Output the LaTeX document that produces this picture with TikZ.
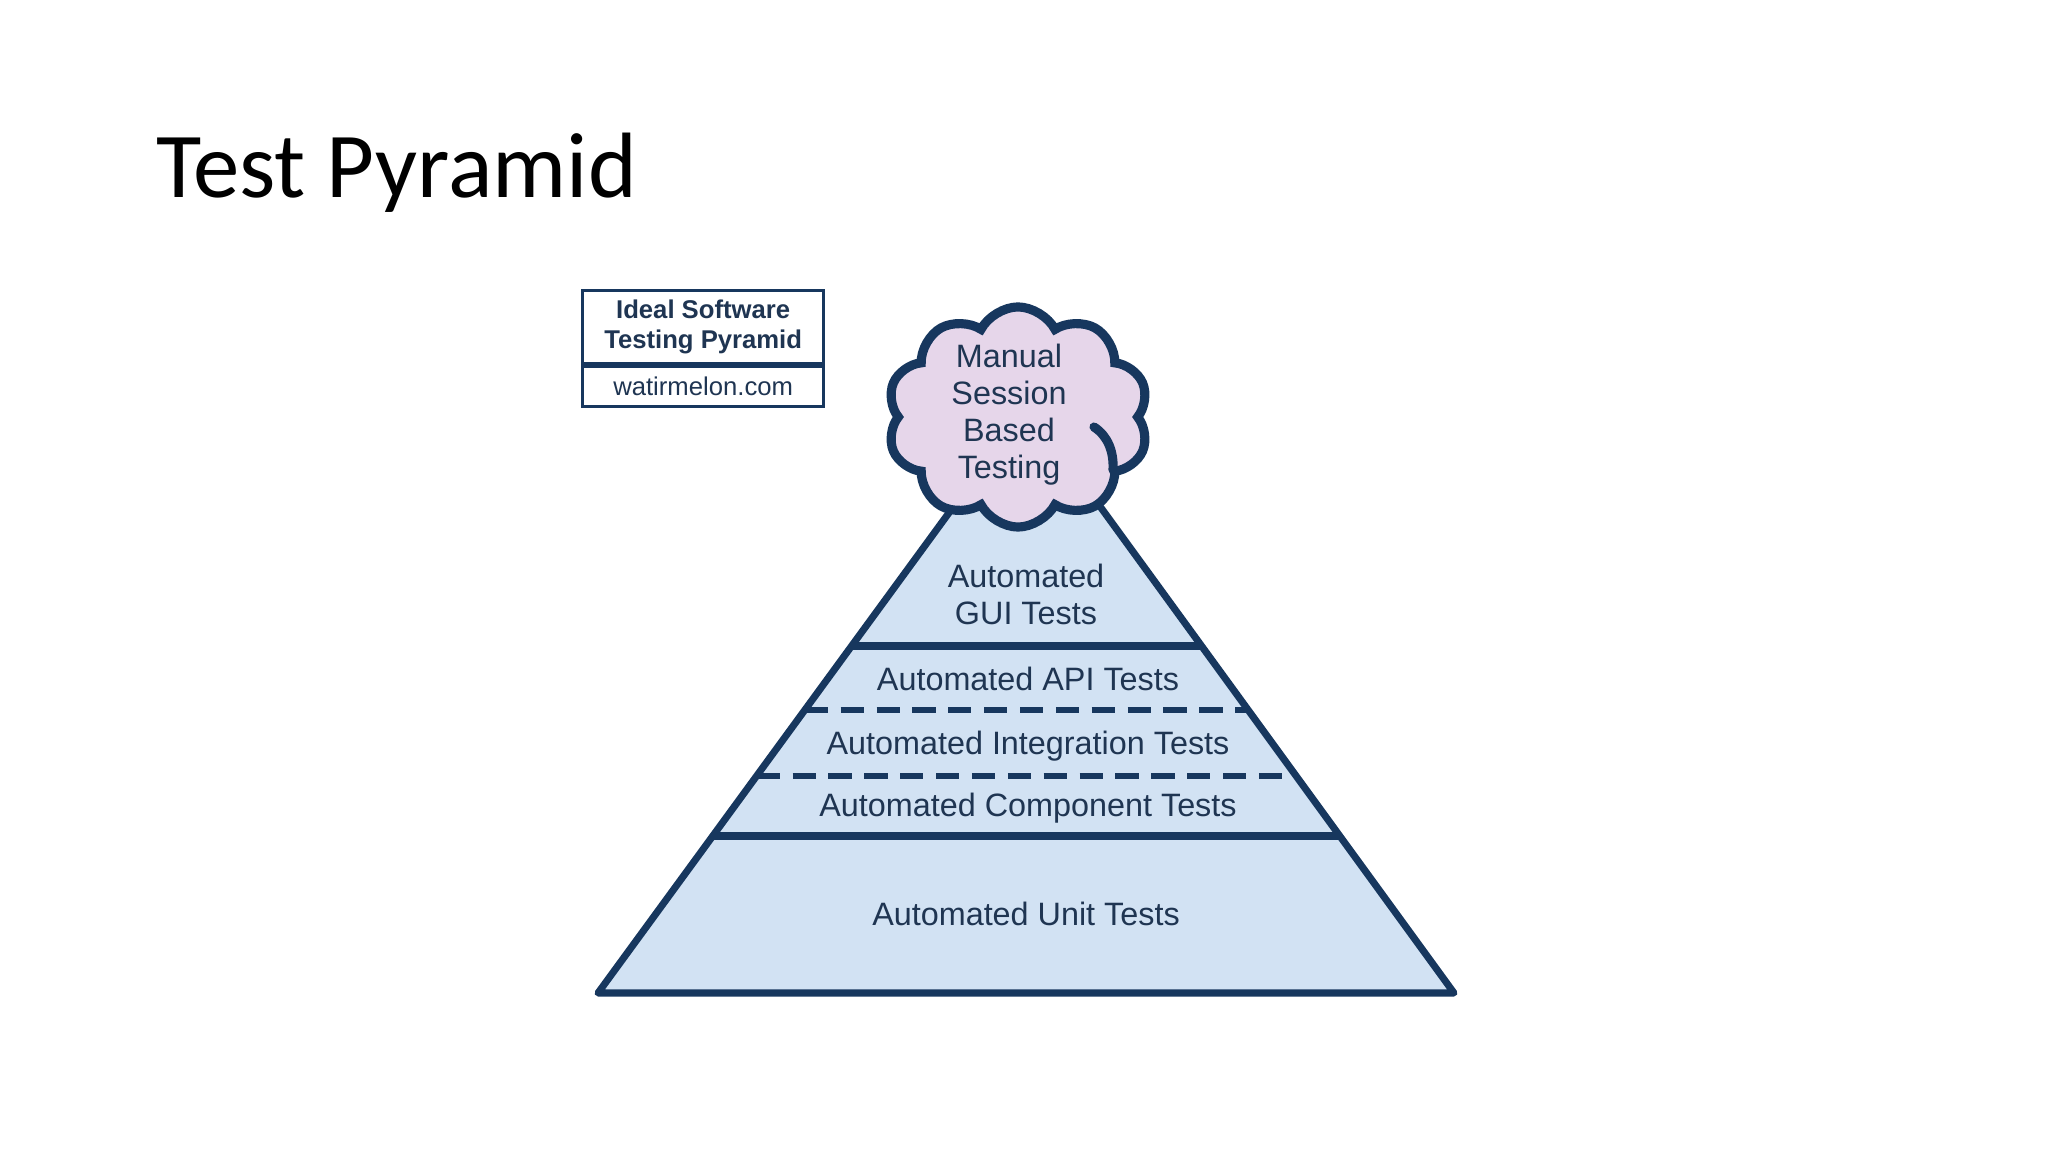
\documentclass[tikz,border=0pt]{standalone}
\usepackage{fontspec}
\setmainfont{Liberation Sans}
\newfontfamily\slidefont{Carlito}
\usetikzlibrary{shapes.symbols,positioning,calc}

\definecolor{navy}{HTML}{17375E}
\definecolor{pyrfill}{HTML}{D2E2F3}
\definecolor{cloudfill}{HTML}{E6D6EA}
\definecolor{labeltext}{HTML}{1F3552}

\tikzset{
  layer label/.style={text=labeltext,font=\fontsize{9.2}{10.5}\selectfont,align=center},
  band line/.style={draw=navy,line width=2.2pt},
  band dash/.style={draw=navy,line width=1.7pt,dash pattern=on 6.6pt off 3.6pt},
  legend box/.style={draw=navy,line width=0.9pt,minimum width=2.41cm,inner sep=0pt,align=center,text=labeltext}
}

\begin{document}
\begin{tikzpicture}[x=0.01cm,y=-0.01cm]
\useasboundingbox[fill=white] (0,0) rectangle (2048,1152);

\node[anchor=base west,font=\slidefont\fontsize{26.4}{30}\selectfont] (title) at (144,198) {Test Pyramid};

% legend box
\node[legend box,minimum height=0.73cm,font=\bfseries\fontsize{7.3}{8.5}\selectfont,anchor=north west] (legend) at (581,289) {Ideal Software\\Testing Pyramid};
\node[legend box,minimum height=0.40cm,font=\fontsize{7.3}{8.5}\selectfont,below=0pt of legend] (site) {watirmelon.com};

% pyramid
\coordinate (bl) at (598,993);
\coordinate (br) at (1454,993);
\coordinate (apex) at (1027,406);
\fill[pyrfill] (bl) -- (apex) -- (br) -- cycle;
\draw[band line] ($(bl)!0.591!(apex)$) -- ($(br)!0.591!(apex)$);
\draw[band dash] ($(bl)!0.482!(apex)$) -- ($(br)!0.482!(apex)$);
\draw[band dash] ($(bl)!0.370!(apex)$) -- ($(br)!0.370!(apex)$);
\draw[band line] ($(bl)!0.267!(apex)$) -- ($(br)!0.267!(apex)$);
\draw[navy,line width=2pt,line join=round] (bl) -- (apex) -- (br) -- cycle;

\node[layer label] (gui) at (1026,594) {Automated\\GUI Tests};
\node[layer label] (api) at (1028,679) {Automated API Tests};
\node[layer label] (integration) at (1028,746) {Automated Integration Tests};
\node[layer label] (component) at (1028,808) {Automated Component Tests};
\node[layer label] (unit) at (1026,914) {Automated Unit Tests};

% cloud on top
\node[cloud,cloud puffs=10,cloud puff arc=125,aspect=1.2,draw=navy,fill=cloudfill,line width=2.6pt,
      minimum width=2.62cm,minimum height=2.2cm,inner sep=0pt] (cloud) at (1018,417) {};
\draw[navy,line width=2.6pt,line cap=round] (1094,427) .. controls (1108,436) and (1114,452) .. (1113,470);
\node[layer label] (manual) at (1009,415) {Manual\\Session\\Based\\Testing};
\end{tikzpicture}
\end{document}
